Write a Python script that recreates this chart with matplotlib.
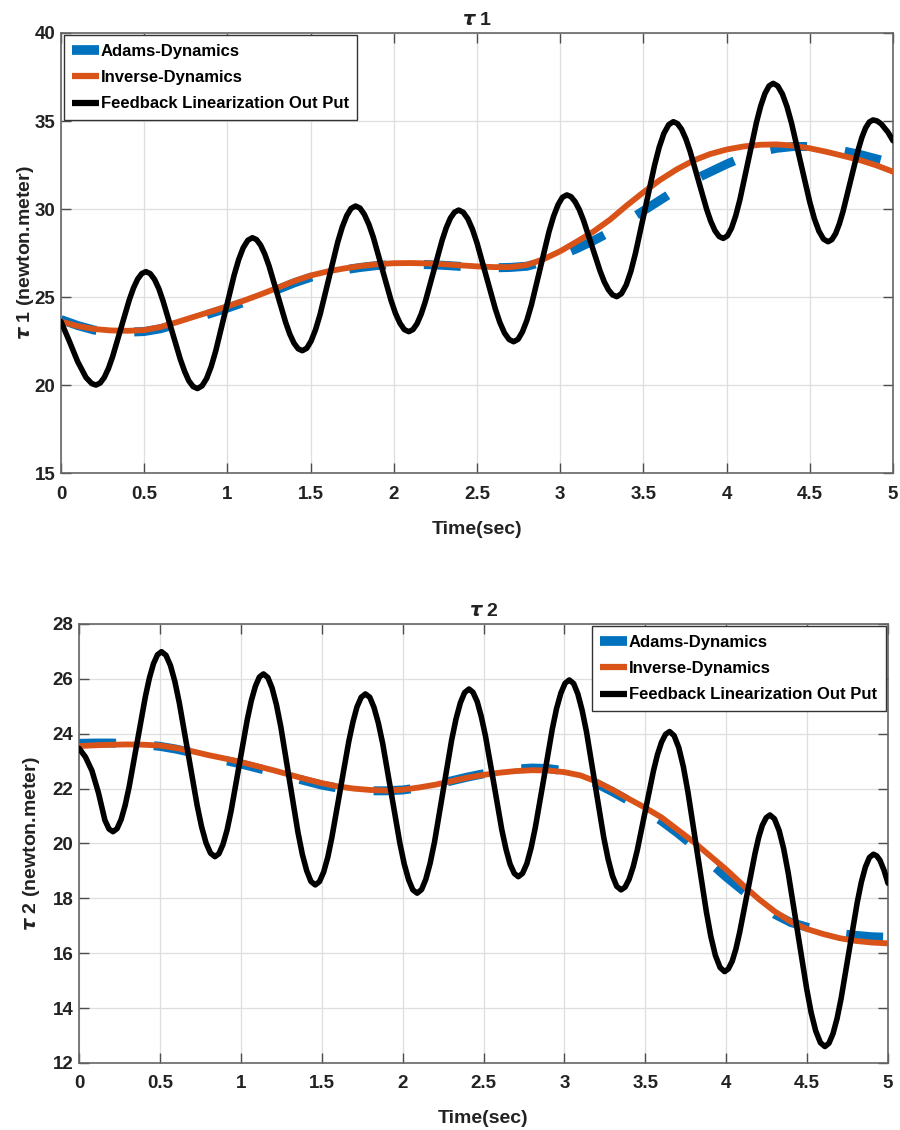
import matplotlib
matplotlib.use("Agg")
import matplotlib.pyplot as plt
from matplotlib.lines import Line2D

plt.rcParams['font.family'] = ['Liberation Sans', 'DejaVu Sans']
plt.rcParams['font.weight'] = 'bold'
plt.rcParams['mathtext.fontset'] = 'dejavusans'

# ---- data ----
xticks = [0, 0.5, 1, 1.5, 2, 2.5, 3, 3.5, 4, 4.5, 5]
xtick_labels = ['0', '0.5', '1', '1.5', '2', '2.5', '3', '3.5', '4', '4.5', '5']
yticks1 = [15, 20, 25, 30, 35, 40]
yticks2 = [12, 14, 16, 18, 20, 22, 24, 26, 28]
labels = ['Adams-Dynamics', 'Inverse-Dynamics', 'Feedback Linearization Out Put']

# smooth curves, sampled every 0.1 s
t_smooth = [0.0, 0.1, 0.2, 0.3, 0.4, 0.5, 0.6, 0.7, 0.8, 0.9,
            1.0, 1.1, 1.2, 1.3, 1.4, 1.5, 1.6, 1.7, 1.8, 1.9,
            2.0, 2.1, 2.2, 2.3, 2.4, 2.5, 2.6, 2.7, 2.8, 2.9,
            3.0, 3.1, 3.2, 3.3, 3.4, 3.5, 3.6, 3.7, 3.8, 3.9,
            4.0, 4.1, 4.2, 4.3, 4.4, 4.5, 4.6, 4.7, 4.8, 4.9, 5.0]

tau1_inverse = [23.60, 23.35, 23.18, 23.10, 23.08, 23.12, 23.30, 23.58, 23.88, 24.17,
                24.47, 24.80, 25.15, 25.52, 25.90, 26.22, 26.45, 26.62, 26.76, 26.86,
                26.92, 26.93, 26.91, 26.86, 26.80, 26.74, 26.70, 26.70, 26.82, 27.15,
                27.60, 28.15, 28.72, 29.40, 30.20, 30.95, 31.65, 32.25, 32.75, 33.12,
                33.38, 33.55, 33.65, 33.67, 33.60, 33.45, 33.25, 33.02, 32.78, 32.48, 32.12]

tau1_adams = [23.72, 23.38, 23.12, 23.02, 23.00, 23.04, 23.20, 23.48, 23.78, 24.07,
              24.37, 24.70, 25.05, 25.42, 25.80, 26.12, 26.36, 26.54, 26.68, 26.79,
              26.85, 26.86, 26.84, 26.80, 26.74, 26.68, 26.66, 26.68, 26.75, 27.00,
              27.35, 27.75, 28.20, 28.70, 29.30, 29.90, 30.50, 31.10, 31.65, 32.10,
              32.55, 32.95, 33.25, 33.45, 33.55, 33.55, 33.45, 33.30, 33.10, 32.85, 32.60]

tau2_inverse = [23.55, 23.58, 23.60, 23.61, 23.60, 23.57, 23.48, 23.36, 23.22, 23.10,
                22.97, 22.82, 22.67, 22.51, 22.35, 22.20, 22.08, 22.00, 21.95, 21.93,
                21.96, 22.04, 22.14, 22.27, 22.40, 22.50, 22.58, 22.64, 22.67, 22.66,
                22.60, 22.48, 22.25, 21.95, 21.62, 21.30, 20.95, 20.50, 20.05, 19.55,
                19.05, 18.50, 17.98, 17.52, 17.15, 16.88, 16.70, 16.55, 16.45, 16.39, 16.36]

tau2_adams = [23.65, 23.66, 23.66, 23.64, 23.60, 23.54, 23.44, 23.31, 23.16, 23.03,
              22.90, 22.75, 22.60, 22.44, 22.28, 22.13, 22.02, 21.95, 21.92, 21.92,
              21.95, 22.03, 22.14, 22.28, 22.42, 22.54, 22.64, 22.71, 22.75, 22.73,
              22.65, 22.48, 22.18, 21.88, 21.55, 21.20, 20.82, 20.38, 19.90, 19.30,
              18.78, 18.30, 17.85, 17.42, 17.12, 16.95, 16.82, 16.72, 16.65, 16.60, 16.58]

# feedback linearization output (oscillating), read point by point,
# one row per half swing
t_fb1 = [0.0, 0.05, 0.1, 0.15, 0.185,
         0.21, 0.235, 0.26, 0.285, 0.31, 0.36, 0.41, 0.435, 0.46, 0.485,
         0.51, 0.536, 0.562, 0.588, 0.613, 0.665, 0.717, 0.743, 0.768, 0.794,
         0.82, 0.8475, 0.875, 0.9025, 0.93, 0.985, 1.04, 1.0675, 1.095, 1.1225,
         1.15, 1.175, 1.2, 1.225, 1.25, 1.3, 1.35, 1.375, 1.4, 1.425,
         1.45, 1.477, 1.503, 1.53, 1.557, 1.61, 1.663, 1.69, 1.717, 1.743,
         1.77, 1.797, 1.823, 1.85, 1.877, 1.93, 1.983, 2.01, 2.037, 2.063,
         2.09, 2.115, 2.14, 2.165, 2.19, 2.24, 2.29, 2.315, 2.34, 2.365,
         2.39, 2.4175, 2.445, 2.4725, 2.5, 2.555, 2.61, 2.6375, 2.665, 2.6925,
         2.72, 2.747, 2.773, 2.8, 2.827, 2.88, 2.933, 2.96, 2.987, 3.013,
         3.04, 3.065, 3.09, 3.115, 3.14, 3.19, 3.24, 3.265, 3.29, 3.315,
         3.34, 3.368, 3.397, 3.425, 3.453, 3.51, 3.567, 3.595, 3.623, 3.652,
         3.68, 3.705, 3.73, 3.755, 3.78, 3.83, 3.88, 3.905, 3.93, 3.955,
         3.98, 4.005, 4.03, 4.055, 4.08, 4.13, 4.18, 4.205, 4.23, 4.255,
         4.28, 4.3075, 4.335, 4.3625, 4.39, 4.445, 4.5, 4.5275, 4.555, 4.5825,
         4.61, 4.6325, 4.655, 4.6775, 4.7, 4.745, 4.79, 4.8125, 4.835, 4.8575,
         4.88, 4.905, 4.93, 4.97, 5.0]
tau1_fb = [23.60, 22.49, 21.33, 20.43, 20.08,
           20.00, 20.11, 20.43, 20.94, 21.61, 23.22, 24.83, 25.50, 26.01, 26.33,
           26.44, 26.33, 26.00, 25.47, 24.78, 23.12, 21.46, 20.77, 20.24, 19.91,
           19.80, 19.95, 20.37, 21.05, 21.94, 24.09, 26.23, 27.12, 27.80, 28.22,
           28.37, 28.26, 27.94, 27.43, 26.77, 25.16, 23.56, 22.89, 22.38, 22.06,
           21.95, 22.09, 22.50, 23.15, 24.01, 26.06, 28.12, 28.97, 29.62, 30.03,
           30.17, 30.05, 29.69, 29.13, 28.39, 26.60, 24.82, 24.07, 23.51, 23.15,
           23.03, 23.15, 23.49, 24.04, 24.76, 26.49, 28.21, 28.93, 29.48, 29.82,
           29.94, 29.81, 29.44, 28.85, 28.07, 26.20, 24.33, 23.55, 22.96, 22.59,
           22.46, 22.60, 23.02, 23.68, 24.55, 26.63, 28.72, 29.58, 30.24, 30.66,
           30.80, 30.70, 30.41, 29.96, 29.36, 27.91, 26.47, 25.86, 25.41, 25.12,
           25.02, 25.19, 25.69, 26.47, 27.51, 29.99, 32.48, 33.51, 34.29, 34.79,
           34.96, 34.85, 34.52, 33.99, 33.30, 31.65, 29.99, 29.30, 28.77, 28.44,
           28.33, 28.48, 28.92, 29.62, 30.53, 32.74, 34.94, 35.85, 36.55, 36.99,
           37.14, 36.99, 36.54, 35.83, 34.89, 32.64, 30.39, 29.45, 28.74, 28.29,
           28.14, 28.26, 28.60, 29.15, 29.87, 31.60, 33.33, 34.05, 34.60, 34.94,
           35.06, 35.00, 34.83, 34.36, 33.88]

t_fb2 = [0.0, 0.04, 0.08, 0.12, 0.16, 0.185,
         0.21, 0.235, 0.26, 0.285, 0.31, 0.36, 0.41, 0.435, 0.46, 0.485,
         0.51, 0.5375, 0.565, 0.5925, 0.62, 0.675, 0.73, 0.7575, 0.785, 0.8125,
         0.84, 0.865, 0.89, 0.915, 0.94, 0.99, 1.04, 1.065, 1.09, 1.115,
         1.14, 1.167, 1.193, 1.22, 1.247, 1.3, 1.353, 1.38, 1.407, 1.433,
         1.46, 1.486, 1.512, 1.538, 1.563, 1.615, 1.667, 1.693, 1.718, 1.744,
         1.77, 1.797, 1.823, 1.85, 1.877, 1.93, 1.983, 2.01, 2.037, 2.063,
         2.09, 2.117, 2.143, 2.17, 2.197, 2.25, 2.303, 2.33, 2.357, 2.383,
         2.41, 2.435, 2.461, 2.486, 2.512, 2.563, 2.613, 2.639, 2.664, 2.69,
         2.715, 2.741, 2.768, 2.794, 2.82, 2.873, 2.925, 2.951, 2.978, 3.004,
         3.03, 3.057, 3.083, 3.11, 3.137, 3.19, 3.243, 3.27, 3.297, 3.323,
         3.35, 3.375, 3.4, 3.425, 3.45, 3.5, 3.55, 3.575, 3.6, 3.625,
         3.65, 3.678, 3.707, 3.735, 3.763, 3.82, 3.877, 3.905, 3.933, 3.962,
         3.99, 4.013, 4.037, 4.06, 4.083, 4.13, 4.177, 4.2, 4.223, 4.247,
         4.27, 4.298, 4.327, 4.355, 4.383, 4.44, 4.497, 4.525, 4.553, 4.582,
         4.61, 4.635, 4.66, 4.685, 4.71, 4.76, 4.81, 4.835, 4.86, 4.885,
         4.91, 4.93, 4.95, 4.975, 5.0]
tau2_fb = [23.47, 23.15, 22.65, 21.85, 20.85, 20.53,
           20.43, 20.54, 20.87, 21.39, 22.07, 23.71, 25.35, 26.03, 26.55, 26.88,
           26.99, 26.86, 26.49, 25.90, 25.12, 23.26, 21.39, 20.61, 20.02, 19.65,
           19.52, 19.63, 19.97, 20.49, 21.19, 22.85, 24.52, 25.21, 25.73, 26.07,
           26.18, 26.05, 25.67, 25.06, 24.26, 22.34, 20.41, 19.61, 19.01, 18.62,
           18.49, 18.61, 18.96, 19.51, 20.23, 21.97, 23.71, 24.43, 24.98, 25.33,
           25.45, 25.33, 24.96, 24.39, 23.64, 21.82, 20.01, 19.25, 18.68, 18.31,
           18.19, 18.32, 18.69, 19.28, 20.05, 21.91, 23.77, 24.54, 25.13, 25.50,
           25.63, 25.51, 25.17, 24.63, 23.92, 22.21, 20.50, 19.79, 19.25, 18.91,
           18.79, 18.91, 19.27, 19.84, 20.58, 22.38, 24.17, 24.91, 25.48, 25.84,
           25.96, 25.83, 25.45, 24.84, 24.05, 22.14, 20.22, 19.43, 18.82, 18.44,
           18.31, 18.41, 18.70, 19.15, 19.75, 21.20, 22.64, 23.24, 23.69, 23.98,
           24.08, 23.93, 23.49, 22.80, 21.89, 19.71, 17.52, 16.61, 15.92, 15.48,
           15.33, 15.43, 15.71, 16.16, 16.76, 18.19, 19.61, 20.21, 20.66, 20.94,
           21.04, 20.90, 20.47, 19.81, 18.93, 16.82, 14.71, 13.83, 13.17, 12.74,
           12.60, 12.72, 13.07, 13.62, 14.35, 16.11, 17.86, 18.59, 19.14, 19.49,
           19.61, 19.55, 19.39, 19.03, 18.55]

BLUE = '#0072BD'
ORANGE = '#D95319'
FS_TICK = 13.5
FS_LABEL = 14
FS_LEG = 12.0


def draw_panel(ax, t_fb, fb, adams, inverse, yticks, title, ylabel, legend_loc):
    ax.plot(t_smooth, adams, color=BLUE, lw=6.5, dashes=(4.1, 4.2),
            dash_capstyle='butt', zorder=2)
    ax.plot(t_smooth, inverse, color=ORANGE, lw=4.2, zorder=3,
            solid_capstyle='round')
    ax.plot(t_fb, fb, color='black', lw=4.0, zorder=4,
            solid_joinstyle='round', solid_capstyle='round')

    ax.set_xlim(0, 5)
    ax.set_ylim(yticks[0], yticks[-1])
    ax.set_xticks(xticks)
    ax.set_xticklabels(xtick_labels)
    ax.set_yticks(yticks)
    ax.grid(True, color='#dedede', lw=0.9)
    ax.set_axisbelow(True)
    ax.tick_params(direction='in', length=7, width=1.0, colors='0.3',
                   top=True, right=True, labelsize=FS_TICK, labelcolor='#222222')
    ax.tick_params(axis='x', pad=9)
    ax.tick_params(axis='y', pad=4)
    for sp in ax.spines.values():
        sp.set_color('0.4')
        sp.set_linewidth(1.2)

    ax.set_title(title, fontsize=FS_LABEL, fontweight='bold', pad=6, color='#222222')
    ax.set_xlabel('Time(sec)', fontsize=FS_LABEL, fontweight='bold', color='#222222')
    ax.set_ylabel(ylabel, fontsize=FS_LABEL, fontweight='bold', color='#222222')

    handles = [Line2D([], [], color=BLUE, lw=7, solid_capstyle='butt'),
               Line2D([], [], color=ORANGE, lw=4.5, solid_capstyle='butt'),
               Line2D([], [], color='black', lw=4.5, solid_capstyle='butt')]
    leg = ax.legend(handles, labels, loc=legend_loc, fontsize=FS_LEG,
                    frameon=True, fancybox=False, framealpha=1,
                    edgecolor='0.2', borderaxespad=0.15, borderpad=0.5,
                    handlelength=1.65, handletextpad=0.1, labelspacing=0.68)
    leg.get_frame().set_linewidth(1.0)
    for txt in leg.get_texts():
        txt.set_fontweight('bold')
    return ax


fig = plt.figure(figsize=(9, 11.3), dpi=100)
ax1 = fig.add_axes([0.0678, 0.5814, 0.9244, 0.3894])
ax2 = fig.add_axes([0.0878, 0.0593, 0.8989, 0.3885])

draw_panel(ax1, t_fb1, tau1_fb, tau1_adams, tau1_inverse, yticks1,
           r'$\tau$ 1', r'$\tau$ 1 (newton.meter)', 'upper left')
draw_panel(ax2, t_fb2, tau2_fb, tau2_adams, tau2_inverse, yticks2,
           r'$\tau$ 2', r'$\tau$ 2 (newton.meter)', 'upper right')

ax1.xaxis.set_label_coords(0.5, -0.108)
ax1.yaxis.set_label_coords(-0.030, 0.5)
ax2.xaxis.set_label_coords(0.5, -0.108)
ax2.yaxis.set_label_coords(-0.046, 0.5)

fig.savefig('out.png', dpi=100)
